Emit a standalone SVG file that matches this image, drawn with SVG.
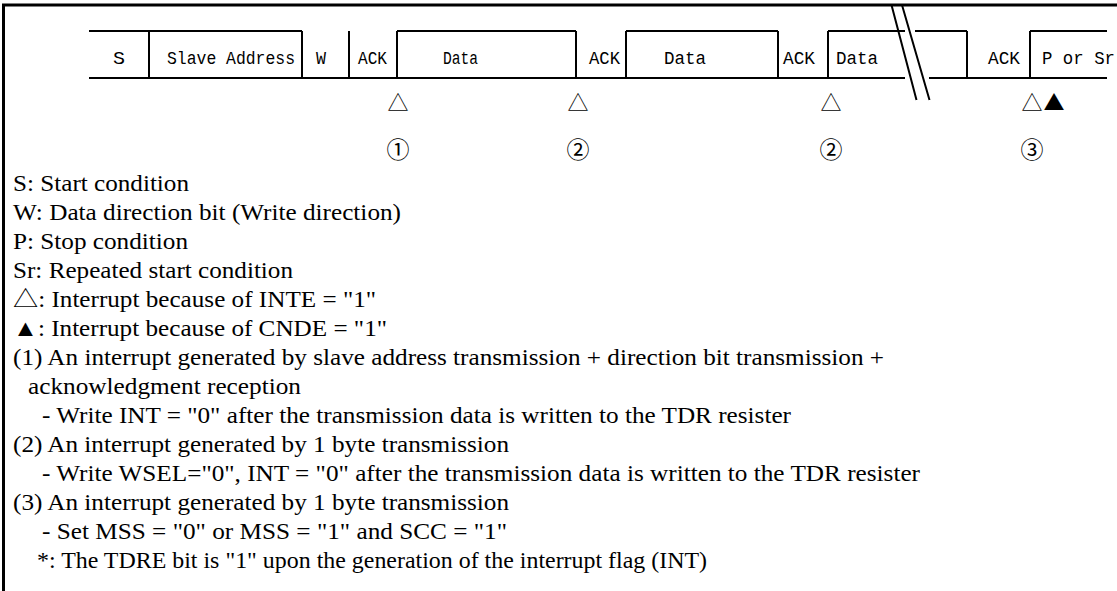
<svg xmlns="http://www.w3.org/2000/svg" width="1117" height="591" viewBox="0 0 1117 591">
<style>
.wf{fill:none;stroke:#000;stroke-width:2}
.lbl{font-family:"Liberation Mono",monospace;font-size:19px;fill:#000}
.sym{font-family:"Noto Sans CJK JP","DejaVu Sans",sans-serif;font-size:21px;fill:#000;text-anchor:middle}
.num{font-family:"Noto Sans CJK JP","DejaVu Sans",sans-serif;font-size:23px;fill:#000;text-anchor:middle}
.leg{font-family:"Liberation Serif","Noto Sans CJK JP",serif;font-size:23px;fill:#000}
</style>
<rect width="1117" height="591" fill="#fff"/>
<g id="frame">
<line x1="2" y1="5" x2="1117" y2="5" stroke="#000" stroke-width="3"/>
<line x1="3.5" y1="4" x2="3.5" y2="591" stroke="#000" stroke-width="3"/>
</g>
<g id="connectors">
<path class="wf" d="M89,31H302M397,31H576M626,31H778M828,31H905M915,31H967M1030,31H1107M89,78H905M929,78H1107M149,31V78M302,31V78M349,31V78M397,31V78M576,31V78M626,31V78M778,31V78M828,31V78M967,31V78M1030,31V78"/>
<path class="wf" stroke-width="1.5" d="M891.5,5L916.5,100M902,5L929.5,100"/>
</g>
<g id="labels">
<text class="lbl" x="113" y="64" textLength="12" lengthAdjust="spacingAndGlyphs">S</text>
<text class="lbl" x="167" y="64" textLength="128" lengthAdjust="spacingAndGlyphs">Slave Address</text>
<text class="lbl" x="316" y="64" textLength="10" lengthAdjust="spacingAndGlyphs">W</text>
<text class="lbl" x="358" y="64" textLength="29" lengthAdjust="spacingAndGlyphs">ACK</text>
<text class="lbl" x="443" y="64" textLength="35" lengthAdjust="spacingAndGlyphs">Data</text>
<text class="lbl" x="589" y="64" textLength="31" lengthAdjust="spacingAndGlyphs">ACK</text>
<text class="lbl" x="664" y="64" textLength="42" lengthAdjust="spacingAndGlyphs">Data</text>
<text class="lbl" x="783" y="64" textLength="32" lengthAdjust="spacingAndGlyphs">ACK</text>
<text class="lbl" x="836" y="64" textLength="42" lengthAdjust="spacingAndGlyphs">Data</text>
<text class="lbl" x="988" y="64" textLength="32" lengthAdjust="spacingAndGlyphs">ACK</text>
<text class="lbl" x="1042" y="64" textLength="73" lengthAdjust="spacingAndGlyphs">P or Sr</text>
</g>
<g id="markers">
<text class="sym" x="398" y="110">△</text>
<text class="sym" x="578" y="110">△</text>
<text class="sym" x="831" y="110">△</text>
<text class="sym" x="1032" y="110">△</text>
<text class="sym" x="1054" y="110">▲</text>
<text class="num" x="398" y="158">①</text>
<text class="num" x="578" y="158">②</text>
<text class="num" x="831" y="158">②</text>
<text class="num" x="1032" y="158">③</text>
</g>
<g id="legend" class="leg">
<text x="13" y="191" textLength="176" lengthAdjust="spacingAndGlyphs">S: Start condition</text>
<text x="13" y="220" textLength="388" lengthAdjust="spacingAndGlyphs">W: Data direction bit (Write direction)</text>
<text x="13" y="249" textLength="175" lengthAdjust="spacingAndGlyphs">P: Stop condition</text>
<text x="13" y="278" textLength="280" lengthAdjust="spacingAndGlyphs">Sr: Repeated start condition</text>
<text x="13" y="307" textLength="363" lengthAdjust="spacingAndGlyphs">△: Interrupt because of INTE = "1"</text>
<text x="13" y="336" textLength="374" lengthAdjust="spacingAndGlyphs">▲: Interrupt because of CNDE = "1"</text>
<text x="13" y="365" textLength="871" lengthAdjust="spacingAndGlyphs">(1) An interrupt generated by slave address transmission + direction bit transmission +</text>
<text x="28" y="394" textLength="273" lengthAdjust="spacingAndGlyphs">acknowledgment reception</text>
<text x="42" y="423" textLength="749" lengthAdjust="spacingAndGlyphs">- Write INT = "0" after the transmission data is written to the TDR resister</text>
<text x="13" y="452" textLength="496" lengthAdjust="spacingAndGlyphs">(2) An interrupt generated by 1 byte transmission</text>
<text x="42" y="481" textLength="878" lengthAdjust="spacingAndGlyphs">- Write WSEL="0", INT = "0" after the transmission data is written to the TDR resister</text>
<text x="13" y="510" textLength="496" lengthAdjust="spacingAndGlyphs">(3) An interrupt generated by 1 byte transmission</text>
<text x="42" y="539" textLength="465" lengthAdjust="spacingAndGlyphs">- Set MSS = "0" or MSS = "1" and SCC = "1"</text>
<text x="37" y="568" textLength="670" lengthAdjust="spacingAndGlyphs">*: The TDRE bit is "1" upon the generation of the interrupt flag (INT)</text>
</g>
</svg>
